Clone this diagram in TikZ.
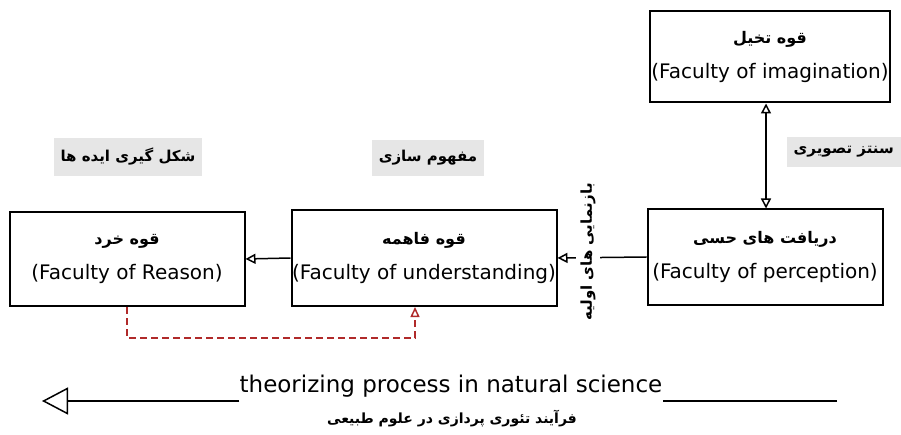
\documentclass[tikz,border=0pt]{standalone}
\usepackage{fontspec}
\setmainfont{DejaVu Sans}
\newfontfamily\fafont[Script=Arabic]{DejaVu Sans}
\TeXXeTstate=1
\usepackage{xcolor}
\usepackage{tikz}
\usetikzlibrary{arrows.meta}
\usetikzlibrary{calc}
\definecolor{dashred}{HTML}{B02A2A}
\definecolor{labelgray}{HTML}{E6E6E6}
\newcommand{\fa}[1]{{\fafont\bfseries\beginR #1\endR}}

\begin{document}
\begin{tikzpicture}[x=1pt, y=-1pt,
	faculty/.style={draw, line width=2pt, align=center, inner sep=0pt, font=\fontsize{20}{24}\selectfont},
	stagelabel/.style={fill=labelgray, inner xsep=7pt, inner ysep=10pt, font=\fontsize{15}{17}\selectfont},
	flow/.style={line width=1.5pt, -{Triangle[open, length=10pt, width=10pt]}},
	feedback/.style={dashred, line width=1.5pt, dash pattern=on 7pt off 4pt, -{Triangle[open, length=10pt, width=9pt]}}]
	\useasboundingbox (0,0) rectangle (901,435);
	\node[faculty, minimum width=240pt, minimum height=91pt] (imagination) at (770,57)
		{{\fontsize{16}{18}\selectfont\fa{قوه تخیل}}\\[11pt](Faculty of imagination)};
	\node[faculty, minimum width=235pt, minimum height=95pt] (perception) at (765,257)
		{{\fontsize{16}{18}\selectfont\fa{دریافت های حسی}}\\[11pt](Faculty of perception)};
	\node[faculty, minimum width=265pt, minimum height=96pt] (understanding) at (424,258)
		{{\fontsize{16}{18}\selectfont\fa{قوه فاهمه}}\\[11pt](Faculty of understanding)};
	\node[faculty, minimum width=235pt, minimum height=94pt] (reason) at (127,259)
		{{\fontsize{16}{18}\selectfont\fa{قوه خرد}}\\[11pt](Faculty of Reason)};
	\node[stagelabel] (ideas) at (128,157) {\fa{شکل گیری ایده ها}};
	\node[stagelabel] (concept) at (428,158) {\fa{مفهوم سازی}};
	\node[stagelabel, anchor=east] (synthesis) at (901,152) {\fa{سنتز تصویری}};
	\draw[flow, {Triangle[open, length=10pt, width=10pt]}-{Triangle[open, length=10pt, width=10pt]}] (imagination.south -| 766,0) -- (perception.north -| 766,0);
	\draw[flow] (perception.west) -- (understanding.east);
	\node[rotate=90, fill=white, inner xsep=2pt, inner ysep=4pt, font=\fontsize{15}{17}\selectfont] (representation) at (588,252) {\fa{بازنمایی های اولیه}};
	\draw[flow] (understanding.west) -- (reason.east);
	\draw[feedback] (reason.south) -- ++(0,31) -| ([xshift=-9pt]understanding.south);
	\node[inner sep=0pt, font=\fontsize{23}{26}\selectfont] (process) at (451,386) {theorizing process in natural science};
	\node[font=\fontsize{14}{16}\selectfont] (processfa) at (452,419) {\fa{فرآیند تئوری پردازی در علوم طبیعی}};
	\coordinate (tail) at (837,401);
	\coordinate (tip) at (42,401);
	\draw[line width=1.8pt] (tail) -- (process.east |- tail);
	\draw[line width=1.8pt, -{Triangle[open, length=26pt, width=27pt, line width=1.5pt]}] (process.west |- tail) -- (tip);
\end{tikzpicture}
\end{document}
